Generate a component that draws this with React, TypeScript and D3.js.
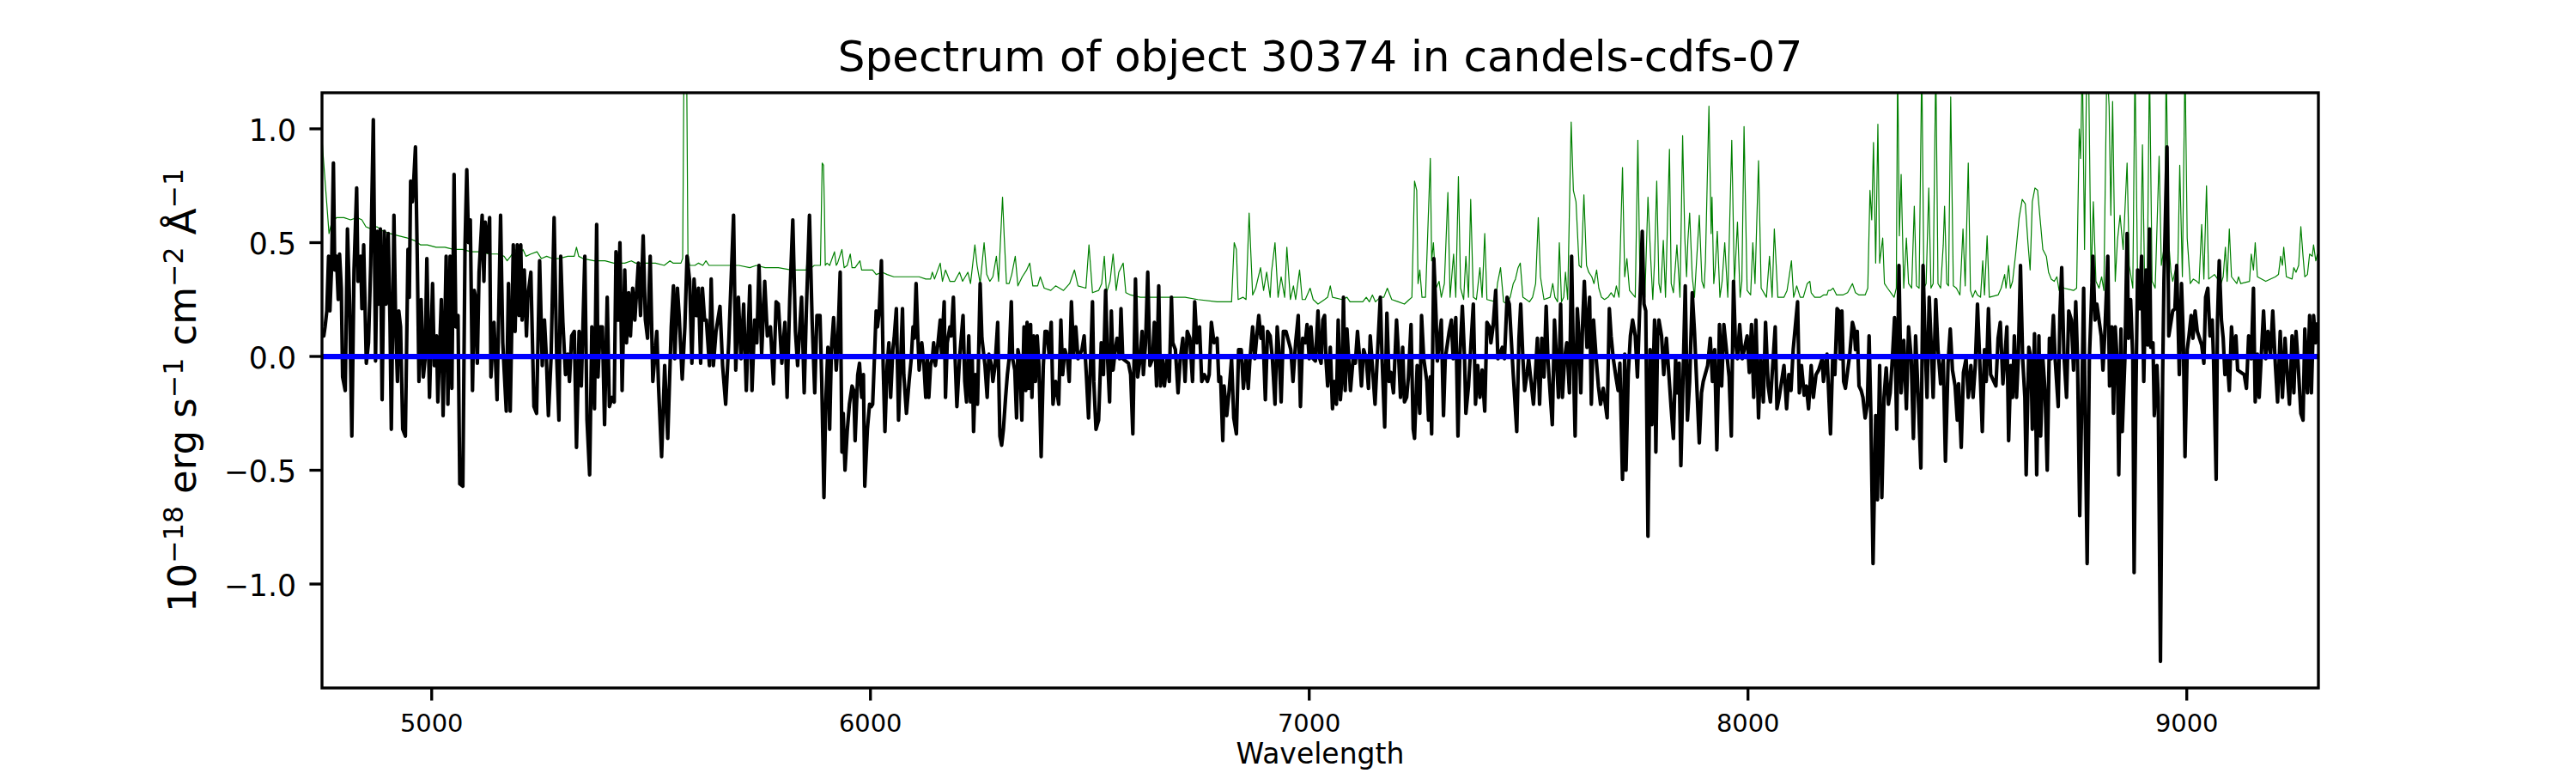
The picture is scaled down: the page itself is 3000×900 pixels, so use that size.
import React from 'react';
import * as d3 from 'd3';

type P = [number, number];

const spectrumA: P[] = [
  [4750,0.10],[4754,0.09],[4757,0.13],[4761,0.20],[4765,0.44],[4768,0.20],[4772,0.40],[4776,0.85],[4779,0.38],[4783,0.44],
  [4787,0.25],[4790,0.45],[4794,0.30],[4797,-0.09],[4803,-0.15],[4808,0.56],[4813,0.23],[4818,-0.35],[4823,0.38],[4829,0.74],
  [4832,0.33],[4838,0.44],[4841,0.21],[4845,0.49],[4851,-0.03],[4856,0.06],[4861,0.40],[4867,1.04],[4872,-0.02],[4876,0.55],
  [4879,0.23],[4883,0.56],[4887,-0.19],[4892,0.55],[4896,0.23],[4901,0.54],[4905,0.15],[4908,-0.32],[4914,0.62],[4918,0.13],
  [4922,-0.11],[4925,0.20],[4929,0.13],[4934,-0.32],[4940,-0.35],[4946,0.47],[4949,0.26],[4952,0.77],[4956,0.68],[4959,0.77],
  [4963,0.92],[4967,0.45],[4971,-0.11],[4976,0.25],[4981,-0.09],[4985,-0.01],[4989,0.43],[4995,-0.18],[5002,0.32],[5006,-0.04],
  [5011,0.09],[5014,-0.20],[5022,0.25],[5026,-0.26],[5033,0.44],[5037,-0.21],[5042,0.44],[5046,-0.14],[5051,0.80],[5055,0.13],
  [5060,0.18],[5064,-0.56],[5071,-0.57],[5076,0.49],[5080,0.82],[5084,0.50],[5088,0.60],[5093,-0.15],[5097,0.29],[5100,0.26],
  [5104,-0.03],[5108,0.37],[5115,0.62],[5119,0.33],[5122,0.59],[5127,0.46],[5132,0.61],[5135,-0.09],[5142,0.15],[5149,-0.19],
  [5157,0.62],[5162,0.06],[5170,-0.24],[5175,0.32],[5179,-0.24],[5186,0.49],[5190,0.11],[5195,0.49],[5199,0.18],[5203,0.49],
  [5206,0.16],[5211,0.38],[5216,0.09],[5219,0.26],[5226,0.37],[5233,-0.22],[5239,-0.25],[5246,0.42],[5252,-0.04],[5257,0.16],
  [5261,0.01],[5266,-0.26],[5272,-0.01],[5279,0.61],[5285,-0.01],[5290,-0.28],[5294,0.44],[5299,0.15],[5305,-0.08],[5310,0.01],
  [5314,-0.11],[5319,0.09],[5325,0.11],[5330,-0.40],[5336,0.11],[5341,-0.13],[5349,0.44],[5354,-0.28],[5360,-0.52],[5365,0.13],
  [5371,-0.23],[5376,0.58],[5379,-0.09],[5384,0.13],[5389,0.13],[5394,-0.30],[5400,0.26],[5405,-0.22],[5411,-0.18],[5416,-0.20],
  [5420,0.46],[5425,0.16],[5429,0.50],[5434,-0.15],[5440,0.38],[5444,0.06],[5449,0.28],[5453,0.09],[5458,0.30],[5463,0.16],
  [5471,0.41],[5476,0.18],[5482,0.53],[5487,0.16],[5492,0.08],[5498,0.44],[5504,-0.11],[5513,0.11],[5517,-0.13],[5524,-0.44],
  [5531,-0.04],[5538,-0.36],[5546,0.13],[5551,0.31],[5554,-0.01],[5560,0.30],[5564,0.18],[5571,-0.10],[5577,0.13],[5582,0.44],
  [5588,0.33],[5593,-0.03],[5598,0.34],[5603,0.18],[5608,0.30],[5613,-0.03],[5617,0.30],[5622,0.16],[5626,0.16],[5633,-0.04],
  [5637,0.34],[5642,-0.04],[5648,0.11],[5657,0.22],[5663,-0.04],[5670,-0.21],[5677,0.06],[5688,0.62],[5693,-0.06],[5699,0.26],
  [5705,-0.01],[5711,0.23],[5717,-0.15],[5725,0.31],[5730,-0.15],[5736,0.16],[5741,0.06],[5746,0.40],[5752,0.01],[5759,0.33],
  [5765,0.09],[5772,0.13],[5779,-0.12],[5785,0.24],[5790,0.23],[5798,-0.03],[5805,0.15],[5810,-0.18],[5816,0.25],[5823,0.60],
  [5829,0.11],[5834,-0.04],[5843,0.26],[5849,-0.16],[5854,0.21],[5861,0.62],[5867,0.16],[5873,-0.16],[5878,0.18],[5885,0.18],
];

const spectrumB: P[] = [
  [5889,-0.11],[5894,-0.62],[5898,-0.21],[5903,0.04],[5907,-0.32],[5911,0.03],[5916,0.17],[5922,-0.06],[5925,0.03],[5931,0.37],
  [5935,-0.42],[5938,-0.25],[5942,-0.50],[5947,-0.33],[5952,-0.21],[5958,-0.13],[5962,-0.15],[5965,-0.37],[5971,-0.08],[5975,-0.03],
  [5980,-0.18],[5984,-0.08],[5987,-0.57],[5993,-0.32],[5998,-0.21],[6002,-0.22],[6005,-0.21],[6009,-0.01],[6013,0.20],[6016,0.13],
  [6020,0.20],[6025,0.42],[6029,-0.04],[6033,-0.33],[6038,-0.04],[6042,0.06],[6046,-0.18],[6051,0.03],[6054,0.08],[6059,0.21],
  [6064,-0.28],[6068,-0.06],[6073,0.21],[6076,-0.08],[6082,-0.25],[6088,-0.11],[6093,-0.01],[6097,0.13],[6100,0.08],[6104,0.32],
  [6108,0.09],[6111,-0.06],[6117,0.06],[6122,-0.04],[6126,-0.18],[6130,-0.01],[6133,-0.18],[6137,-0.04],[6141,-0.01],[6144,0.06],
  [6148,-0.04],[6154,0.06],[6159,0.16],[6162,0.01],[6168,0.24],[6171,-0.18],[6175,0.06],[6181,0.13],[6184,0.09],[6189,0.26],
  [6193,-0.01],[6197,-0.22],[6203,-0.01],[6211,0.18],[6215,-0.11],[6219,-0.20],[6224,0.09],[6228,-0.20],[6232,-0.01],[6235,-0.33],
  [6239,-0.08],[6244,-0.21],[6250,0.32],[6254,0.08],[6261,-0.04],[6266,-0.18],[6270,0.01],[6276,-0.04],[6279,-0.11],[6284,-0.04],
  [6290,0.15],[6295,-0.35],[6299,-0.39],[6303,-0.32],[6308,-0.18],[6312,-0.08],[6316,-0.01],[6321,0.24],[6324,-0.01],[6329,-0.06],
  [6333,-0.27],[6336,0.03],[6340,-0.01],[6345,-0.28],[6350,0.13],[6354,-0.15],[6357,0.15],[6361,-0.14],[6365,0.14],[6368,-0.18],
  [6372,0.09],[6376,-0.11],[6380,0.09],[6384,-0.04],[6389,-0.44],[6394,-0.04],[6398,0.11],[6402,0.11],[6407,0.01],[6412,0.15],
  [6416,-0.21],[6422,-0.11],[6429,-0.21],[6434,0.16],[6438,-0.08],[6443,0.03],[6449,-0.01],[6453,-0.11],[6458,0.24],[6463,0.01],
  [6468,0.13],[6473,-0.01],[6482,0.03],[6487,0.09],[6492,-0.08],[6497,-0.27],[6502,-0.01],[6506,0.24],[6509,-0.11],[6514,-0.32],
  [6520,-0.28],[6526,0.06],[6531,-0.08],[6536,0.29],[6540,0.01],[6545,-0.20],[6549,0.20],[6553,-0.06],[6558,0.03],[6562,0.08],
  [6568,-0.01],[6571,0.21],[6575,-0.01],[6588,-0.03],[6593,-0.08],[6598,-0.34],[6604,0.34],[6609,-0.09],[6614,-0.02],[6619,0.11],
  [6622,-0.08],[6627,0.06],[6632,0.37],[6637,-0.04],[6643,-0.01],[6647,0.15],[6652,-0.13],[6657,0.31],[6661,-0.13],[6666,-0.01],
  [6670,-0.13],[6676,-0.01],[6681,-0.11],[6686,0.26],[6689,0.06],[6695,0.03],[6701,-0.16],[6706,-0.01],[6712,0.08],[6717,-0.11],
  [6722,0.11],[6728,0.08],[6734,-0.11],[6739,0.24],[6744,0.06],[6750,0.13],[6755,-0.11],[6761,-0.08],[6768,-0.11],[6772,-0.08],
  [6777,0.15],[6783,0.06],[6790,0.08],[6794,-0.11],[6798,-0.09],[6803,-0.37],[6806,-0.13],[6812,-0.26],[6817,-0.16],[6823,-0.01],
  [6828,-0.27],[6834,-0.34],[6839,0.03],[6845,0.03],[6850,-0.14],[6856,-0.01],[6861,-0.14],[6865,-0.01],[6871,0.13],[6876,-0.01],
  [6880,0.08],[6885,0.18],[6890,0.08],[6894,0.13],[6900,-0.19],[6905,0.11],[6911,0.09],[6916,-0.01],[6922,-0.21],[6927,0.13],
  [6931,0.03],[6936,-0.20],[6941,0.11],[6947,0.11],[6958,0.03],[6963,-0.11],[6969,0.06],[6975,0.18],[6980,-0.22],[6985,0.08],
  [6991,0.06],[6995,0.14],[7000,-0.01],[7004,0.13],[7009,-0.01],[7014,-0.02],[7020,0.20],
];

const spectrumC: P[] = [
  [7024,-0.01],[7027,-0.03],[7031,0.16],[7035,0.18],[7038,-0.01],[7042,-0.13],[7048,0.04],[7053,-0.23],[7057,-0.11],[7062,-0.21],
  [7066,0.16],[7071,-0.19],[7075,-0.08],[7078,0.26],[7082,-0.15],[7086,0.12],[7094,-0.15],[7100,-0.01],[7105,-0.03],[7110,0.11],
  [7115,-0.01],[7119,-0.13],[7124,0.03],[7130,-0.01],[7135,-0.14],[7139,0.09],[7150,-0.21],[7155,-0.01],[7162,0.26],[7166,-0.01],
  [7172,-0.31],[7177,0.19],[7182,-0.11],[7186,-0.07],[7192,-0.16],[7199,0.16],[7204,-0.01],[7208,-0.18],[7213,0.04],[7217,-0.20],
  [7222,-0.18],[7226,-0.09],[7232,0.14],[7237,-0.32],[7240,-0.36],[7246,-0.04],[7252,-0.25],[7256,0.18],[7261,-0.01],[7268,-0.11],
  [7272,-0.28],[7276,-0.09],[7279,-0.34],[7284,0.43],[7289,0.18],[7292,-0.02],[7301,0.16],[7306,-0.26],[7310,-0.01],[7319,0.11],
  [7324,0.16],[7328,-0.01],[7334,0.17],[7339,-0.35],[7343,-0.01],[7349,0.22],[7354,-0.01],[7357,-0.25],[7363,-0.13],[7374,0.23],
  [7379,-0.21],[7384,-0.04],[7389,-0.18],[7394,-0.06],[7400,-0.24],[7405,0.15],[7411,0.13],[7414,0.06],[7419,0.13],[7425,0.29],
  [7430,-0.01],[7440,0.04],[7445,-0.01],[7451,0.26],[7456,0.23],[7460,0.09],[7465,-0.08],[7473,-0.33],[7478,0.08],[7482,0.23],
  [7487,-0.01],[7491,-0.15],[7496,-0.08],[7500,-0.01],[7511,-0.21],[7515,-0.09],[7520,0.08],[7525,-0.21],[7530,0.08],[7535,-0.09],
  [7540,0.22],[7544,-0.01],[7549,-0.16],[7554,-0.30],[7559,0.16],[7568,-0.18],[7573,0.23],[7577,-0.18],[7582,-0.01],[7587,0.06],
  [7593,-0.16],[7598,0.44],[7602,-0.01],[7606,-0.35],[7611,0.21],[7615,0.08],[7619,-0.16],[7623,0.14],[7627,0.33],[7633,0.04],
  [7639,0.26],[7643,-0.21],[7648,0.16],[7654,-0.01],[7659,-0.13],[7664,-0.21],[7670,-0.14],[7679,-0.27],[7684,0.21],[7688,0.09],
  [7693,-0.01],[7699,-0.09],[7704,-0.15],[7708,-0.03],[7714,-0.54],[7719,0.01],[7722,-0.50],[7727,-0.08],[7732,0.09],[7737,0.16],
  [7743,0.09],[7748,-0.09],[7759,0.55],[7763,0.23],[7767,0.20],[7772,-0.79],[7777,0.03],[7781,-0.30],[7787,0.16],[7790,-0.42],
  [7794,0.09],[7797,0.16],[7803,0.09],[7808,-0.08],[7814,0.08],[7825,-0.23],[7830,-0.36],[7835,-0.01],[7839,-0.16],[7843,-0.03],
  [7847,-0.48],[7852,-0.09],[7857,0.31],[7862,-0.28],[7867,-0.11],[7873,0.28],[7878,0.11],[7889,-0.38],[7894,-0.16],[7898,-0.11],
  [7908,-0.04],[7914,0.08],[7919,-0.11],[7924,0.03],[7929,-0.41],[7935,0.14],[7940,-0.13],[7945,0.14],[7957,-0.09],[7962,-0.35],
  [7967,0.33],[7971,0.08],[7976,-0.01],[7981,0.14],[7987,-0.01],[7998,0.09],[8003,-0.07],[8008,0.14],[8013,-0.18],[8018,0.16],
  [8024,-0.27],[8029,-0.01],[8035,-0.20],[8040,0.15],[8046,-0.13],[8051,-0.20],[8062,0.13],[8066,-0.23],[8071,-0.18],[8082,-0.04],
  [8088,-0.23],[8093,-0.08],[8098,-0.15],[8103,0.03],[8113,0.24],[8117,-0.16],[8122,-0.04],[8128,-0.17],[8133,-0.13],[8138,-0.23],
  [8144,-0.04],[8149,-0.18],[8155,-0.08],[8161,-0.06],
];

const spectrumD: P[] = [
  [8169,-0.01],[8172,-0.11],[8176,-0.04],[8180,0.01],[8188,-0.34],[8193,-0.01],[8198,-0.08],[8203,0.21],[8207,0.20],[8210,-0.01],
  [8214,0.20],[8218,-0.11],[8222,-0.14],[8232,0.01],[8238,0.15],[8242,0.12],[8245,0.03],[8249,0.11],[8253,-0.13],[8258,-0.15],
  [8262,-0.18],[8267,-0.27],[8272,-0.21],[8276,0.09],[8280,-0.25],[8285,-0.91],[8291,-0.26],[8295,-0.63],[8300,-0.04],[8305,-0.62],
  [8310,-0.18],[8315,-0.05],[8320,-0.21],[8324,-0.16],[8329,-0.01],[8334,0.17],[8339,-0.32],[8344,0.40],[8349,-0.16],[8355,0.07],
  [8361,-0.23],[8366,0.13],[8372,-0.01],[8377,-0.36],[8382,0.09],[8388,-0.18],[8394,-0.49],[8399,0.40],[8404,0.04],[8408,-0.18],
  [8413,0.26],[8418,0.03],[8422,-0.18],[8428,0.25],[8433,0.03],[8439,-0.12],[8445,-0.01],[8450,-0.46],[8456,-0.03],[8461,0.12],
  [8466,-0.06],[8472,-0.13],[8477,-0.28],[8480,-0.12],[8486,-0.40],[8491,-0.07],[8497,-0.01],[8502,-0.18],[8508,-0.04],[8513,-0.18],
  [8518,-0.04],[8523,0.23],[8528,-0.01],[8534,-0.33],[8539,0.03],[8543,-0.11],[8548,0.21],[8553,-0.08],[8565,-0.13],[8570,0.08],
  [8575,0.15],[8581,-0.12],[8586,0.01],[8590,0.13],[8594,-0.37],[8599,-0.04],[8603,-0.18],[8607,0.09],[8612,-0.18],[8616,-0.01],
  [8621,0.40],[8626,-0.01],[8631,-0.18],[8634,-0.52],[8640,0.04],[8645,-0.01],[8648,-0.32],[8653,0.10],[8658,-0.52],[8663,0.09],
  [8667,-0.35],[8672,-0.01],[8677,-0.15],[8682,-0.50],[8687,0.08],[8691,-0.01],[8696,0.18],[8700,-0.01],[8707,-0.22],[8711,0.19],
  [8715,0.39],[8720,0.01],[8726,-0.18],[8731,0.20],[8737,0.16],[8742,-0.06],[8747,0.24],[8751,-0.01],[8756,-0.70],[8760,-0.28],
  [8765,0.30],[8769,-0.35],[8773,-0.91],[8778,-0.01],[8782,0.20],[8786,0.44],[8791,0.16],[8795,0.23],[8800,0.16],[8805,0.09],
  [8809,-0.06],[8813,0.09],[8820,0.44],[8824,-0.13],[8829,0.13],[8833,-0.25],[8837,0.13],[8842,-0.04],[8845,-0.52],[8850,0.12],
  [8853,-0.33],[8859,-0.01],[8864,0.54],[8867,0.08],[8872,0.25],[8877,-0.01],[8880,-0.95],[8884,-0.18],[8888,0.38],[8893,0.21],
  [8897,0.44],[8902,-0.11],[8907,0.38],[8911,0.05],[8915,0.56],[8918,0.04],[8923,0.06],[8926,-0.26],[8932,-0.04],[8935,-0.18],
  [8940,-1.34],[8945,-0.09],[8948,0.33],[8955,0.92],[8959,0.09],[8968,0.20],[8973,0.21],[8977,0.40],[8983,-0.08],[8988,0.32],
  [8992,0.09],[8996,-0.44],[9001,0.03],[9005,0.09],[9010,0.18],[9014,0.08],[9019,0.20],[9024,0.11],[9034,0.05],[9039,-0.03],
  [9043,0.26],[9048,0.30],[9053,0.09],[9058,0.16],[9061,-0.01],[9067,-0.54],[9070,0.16],[9074,0.42],[9079,0.16],[9083,0.08],
  [9087,-0.08],[9092,-0.01],[9097,-0.15],[9102,0.13],[9107,-0.01],[9112,0.09],[9116,-0.06],[9131,-0.08],[9136,-0.14],[9141,0.09],
  [9147,-0.01],[9152,0.30],[9156,-0.20],[9161,0.01],[9165,-0.18],[9175,0.20],[9180,-0.01],[9185,0.11],[9191,0.01],[9196,0.20],
  [9202,-0.04],[9207,-0.20],[9213,0.11],[9218,-0.18],[9224,0.08],[9229,-0.08],[9234,-0.21],[9240,0.09],[9244,-0.16],[9249,0.11],
  [9254,-0.04],[9260,-0.25],[9265,-0.28],[9269,0.12],[9275,-0.16],[9280,0.18],[9284,-0.16],[9289,0.18],[9294,0.06],[9298,0.15],
];

// Noise / sky spectrum (green), values above the axis top are clipped
const noiseA: P[] = [
  [4750,0.96],[4752,0.90],[4766,0.54],[4771,0.58],[4783,0.61],[4800,0.61],[4815,0.60],[4830,0.61],[4841,0.60],[4850,0.57],
  [4862,0.56],[4875,0.57],[4890,0.55],[4905,0.54],[4925,0.53],[4945,0.52],[4960,0.51],[4975,0.49],[4990,0.49],[5010,0.48],
  [5030,0.48],[5050,0.47],[5070,0.47],[5090,0.46],[5110,0.46],[5130,0.45],[5150,0.45],[5165,0.44],[5172,0.42],[5180,0.44],
  [5190,0.47],[5198,0.44],[5208,0.47],[5215,0.44],[5226,0.45],[5240,0.46],[5250,0.43],[5262,0.44],[5275,0.43],[5290,0.43],
  [5310,0.44],[5325,0.44],[5330,0.48],[5335,0.44],[5345,0.43],[5370,0.42],[5395,0.42],[5415,0.41],[5440,0.41],[5455,0.42],
  [5465,0.41],[5485,0.41],[5510,0.41],[5530,0.40],[5543,0.42],[5550,0.41],[5568,0.41],[5572,0.43],[5575,1.30],[5581,1.30],
  [5584,0.45],[5588,0.40],[5600,0.40],[5608,0.41],[5618,0.40],[5625,0.42],[5632,0.40],[5648,0.40],[5670,0.40],[5700,0.40],
  [5725,0.39],[5740,0.40],[5760,0.39],[5790,0.39],[5820,0.38],[5848,0.38],[5854,0.38],[5858,0.49],[5862,0.42],[5866,0.39],
  [5872,0.40],[5886,0.40],[5890,0.85],[5893,0.84],[5895,0.66],[5897,0.40],
];

const noiseB: P[] = [
  [5901,0.41],[5907,0.40],[5918,0.46],[5922,0.40],[5925,0.41],[5935,0.47],[5940,0.39],[5947,0.40],[5954,0.45],[5958,0.39],
  [5965,0.39],[5976,0.42],[5980,0.38],[5995,0.38],[6005,0.38],[6013,0.36],[6027,0.37],[6038,0.36],[6053,0.35],[6075,0.35],
  [6089,0.35],[6111,0.35],[6126,0.34],[6137,0.34],[6141,0.37],[6146,0.34],[6159,0.41],[6164,0.33],[6171,0.38],[6181,0.33],
  [6192,0.33],[6203,0.37],[6210,0.33],[6222,0.37],[6228,0.32],[6238,0.49],[6243,0.40],[6250,0.32],[6259,0.50],[6265,0.36],
  [6272,0.33],[6279,0.35],[6287,0.44],[6292,0.33],[6301,0.70],[6305,0.52],[6310,0.32],[6316,0.32],[6322,0.36],[6330,0.44],
  [6336,0.31],[6346,0.35],[6356,0.38],[6363,0.41],[6370,0.31],[6381,0.31],[6387,0.35],[6396,0.30],[6411,0.29],[6422,0.31],
  [6440,0.29],[6454,0.32],[6465,0.38],[6473,0.31],[6491,0.30],[6498,0.49],[6506,0.28],[6520,0.29],[6527,0.32],[6533,0.44],
  [6538,0.28],[6546,0.33],[6553,0.45],[6560,0.29],[6566,0.37],[6576,0.41],[6582,0.28],[6593,0.27],[6615,0.26],[6637,0.26],
  [6673,0.26],[6717,0.26],[6746,0.25],[6790,0.24],[6823,0.24],[6829,0.50],[6834,0.47],[6838,0.25],[6849,0.26],[6856,0.25],
  [6863,0.63],[6871,0.27],[6878,0.30],[6889,0.39],[6896,0.29],[6903,0.37],[6911,0.26],[6914,0.37],[6922,0.50],[6929,0.26],
  [6936,0.35],[6944,0.26],[6949,0.48],[6957,0.25],[6964,0.31],[6969,0.25],[6978,0.38],[6984,0.25],[6991,0.25],[7002,0.30],
  [7009,0.25],[7020,0.23],
];

const noiseC: P[] = [
  [7035,0.25],[7042,0.26],[7048,0.31],[7053,0.26],[7075,0.25],[7086,0.26],[7093,0.24],[7122,0.24],[7130,0.26],[7137,0.24],
  [7144,0.27],[7151,0.24],[7162,0.26],[7170,0.26],[7178,0.30],[7188,0.25],[7203,0.24],[7217,0.23],[7228,0.25],[7234,0.26],
  [7240,0.77],[7245,0.73],[7248,0.32],[7252,0.38],[7257,0.26],[7265,0.26],[7276,0.87],[7279,0.42],[7283,0.50],[7289,0.30],
  [7296,0.33],[7301,0.26],[7308,0.32],[7316,0.72],[7321,0.26],[7329,0.45],[7334,0.26],[7340,0.79],[7345,0.30],[7352,0.25],
  [7357,0.44],[7363,0.26],[7368,0.69],[7374,0.26],[7381,0.25],[7389,0.39],[7394,0.26],[7400,0.54],[7405,0.25],[7425,0.24],
  [7429,0.32],[7436,0.39],[7443,0.24],[7451,0.23],[7458,0.26],[7465,0.32],[7470,0.34],[7476,0.39],[7481,0.41],[7487,0.26],
  [7502,0.24],[7509,0.26],[7516,0.32],[7522,0.61],[7527,0.35],[7535,0.25],[7549,0.26],[7555,0.32],[7560,0.26],[7566,0.24],
  [7570,0.50],[7575,0.24],[7580,0.26],[7584,0.37],[7589,0.25],[7597,1.03],[7602,0.73],[7608,0.68],[7615,0.40],[7620,0.39],
  [7626,0.71],[7632,0.40],[7637,0.37],[7644,0.35],[7649,0.32],[7655,0.38],[7660,0.30],[7666,0.26],[7673,0.25],[7681,0.26],
  [7688,0.28],[7695,0.26],[7700,0.31],[7706,0.26],[7714,0.83],[7719,0.35],[7724,0.43],[7730,0.29],[7743,0.26],[7749,0.95],
  [7754,0.30],[7759,0.55],[7765,0.26],[7772,0.70],[7778,0.44],[7783,0.25],[7787,0.42],[7792,0.77],[7797,0.32],[7801,0.28],
  [7807,0.51],[7812,0.26],[7821,0.91],[7825,0.32],[7830,0.28],[7838,0.49],[7845,0.26],[7851,0.97],[7856,0.52],[7860,0.35],
  [7863,0.51],[7867,0.63],[7873,0.35],[7878,0.26],[7881,0.36],[7889,0.62],[7895,0.33],[7900,0.30],[7903,0.42],[7911,1.10],
  [7916,0.54],[7918,0.70],[7922,0.32],[7925,0.38],[7930,0.55],[7936,0.26],[7941,0.33],[7947,0.50],[7954,0.26],[7963,0.95],
  [7969,0.32],[7976,0.59],[7982,0.26],[7986,0.33],[7991,1.01],[7998,0.29],[8006,0.27],[8011,0.50],[8016,0.32],[8024,0.86],
  [8030,0.30],[8042,0.26],[8049,0.44],[8055,0.26],[8060,0.56],[8068,0.26],[8082,0.26],[8089,0.29],[8093,0.34],[8099,0.42],
  [8104,0.26],[8111,0.31],[8119,0.26],[8126,0.26],[8135,0.32],[8141,0.33],[8144,0.28],[8152,0.26],[8165,0.26],
];

const noiseD: P[] = [
  [8172,0.27],[8180,0.27],[8183,0.29],[8188,0.29],[8194,0.30],[8202,0.27],[8216,0.27],[8227,0.28],[8238,0.32],[8245,0.28],
  [8253,0.27],[8267,0.27],[8273,0.30],[8278,0.73],[8282,0.60],[8286,0.94],[8291,0.41],[8296,1.02],[8300,0.41],[8307,0.52],
  [8311,0.32],[8318,0.30],[8333,0.26],[8338,0.30],[8341,1.30],[8345,0.53],[8349,0.80],[8355,0.30],[8361,0.52],[8366,0.32],
  [8373,0.30],[8379,0.66],[8384,0.31],[8390,0.30],[8396,1.30],[8401,0.30],[8406,0.32],[8412,0.74],[8417,0.30],[8422,0.32],
  [8428,1.30],[8433,0.32],[8439,0.30],[8445,0.49],[8448,0.66],[8453,0.32],[8457,0.31],[8462,1.14],[8468,0.31],[8475,0.30],
  [8483,0.27],[8490,0.56],[8495,0.31],[8502,0.85],[8507,0.29],[8512,0.26],[8518,0.29],[8523,0.27],[8530,0.26],[8535,0.42],
  [8539,0.27],[8545,0.53],[8550,0.26],[8570,0.27],[8577,0.30],[8585,0.36],[8588,0.30],[8594,0.40],[8598,0.30],[8603,0.33],
  [8610,0.45],[8618,0.61],[8625,0.69],[8632,0.67],[8638,0.50],[8643,0.38],[8648,0.68],[8654,0.74],[8660,0.73],[8665,0.62],
  [8672,0.47],[8680,0.44],[8685,0.37],[8691,0.34],[8698,0.33],[8704,0.35],[8709,0.29],[8713,0.32],[8720,0.30],[8742,0.29],
  [8749,0.30],[8755,1.00],[8758,0.87],[8762,1.30],[8767,0.47],[8772,1.30],[8777,1.15],[8782,0.33],[8787,0.68],[8793,0.33],
  [8800,0.30],[8806,0.35],[8811,0.29],[8818,1.30],[8823,1.10],[8827,0.62],[8831,1.12],[8837,0.33],[8842,0.51],[8848,0.62],
  [8855,0.47],[8864,0.85],[8869,0.40],[8877,0.30],[8882,1.30],[8888,0.32],[8895,0.40],[8899,0.93],[8904,0.32],[8910,0.32],
  [8915,1.30],[8921,0.33],[8928,0.30],[8937,0.88],[8942,0.40],[8950,0.50],[8953,1.30],[8959,0.50],[8964,0.37],[8968,0.33],
  [8974,0.38],[8979,0.33],[8984,0.84],[8990,0.35],[8996,1.30],[9001,0.52],[9008,0.32],[9015,0.34],[9023,0.33],[9028,0.32],
  [9034,0.58],[9039,0.34],[9045,0.75],[9050,0.34],[9063,0.36],[9078,0.32],[9083,0.35],[9088,0.48],[9092,0.33],[9097,0.56],
  [9102,0.35],[9114,0.32],[9118,0.35],[9123,0.32],[9143,0.33],[9147,0.45],[9152,0.38],[9156,0.50],[9161,0.35],[9180,0.33],
  [9202,0.35],[9209,0.36],[9214,0.44],[9218,0.40],[9221,0.48],[9227,0.35],[9240,0.34],[9244,0.39],[9249,0.37],[9255,0.40],
  [9260,0.57],[9265,0.44],[9269,0.35],[9275,0.36],[9280,0.45],[9286,0.44],[9289,0.49],[9294,0.42],[9298,0.45],
];

const zeroLevel: P[] = [[4750, 0], [9300, 0]];

const xDomain = [4750, 9300];
const yDomain = [-1.4566, 1.1585];
const xTicks = [5000, 6000, 7000, 8000, 9000];
const yTicks = [-1.0, -0.5, 0.0, 0.5, 1.0];
const yTickLabels = ['\u22121.0', '\u22120.5', '0.0', '0.5', '1.0'];

const titleText = 'Spectrum of object 30374 in candels-cdfs-07';
const xLabelText = 'Wavelength';

export default function App() {
  const W = 3000, H = 900;
  const left = 375, right = 2700, top = 108, bottom = 801;
  const x = d3.scaleLinear().domain(xDomain).range([left, right]);
  const y = d3.scaleLinear().domain(yDomain).range([bottom, top]);
  const line = d3.line<P>().x(d => x(d[0])).y(d => y(d[1]));

  const spectrum = [...spectrumA, ...spectrumB, ...spectrumC, ...spectrumD];
  const noise = [...noiseA, ...noiseB, ...noiseC, ...noiseD];

  const font = '"DejaVu Sans", sans-serif';
  const tickLen = 14.6;
  const spineW = 3.33;
  const supSize = 31.5;
  const mainSize = 45;
  const raise = 15;

  return (
    <svg width={W} height={H} viewBox={`0 0 ${W} ${H}`}
      style={{ position: 'absolute', left: 0, top: 0, display: 'block', background: '#fff' }}
      fontFamily={font}>
      <rect x={0} y={0} width={W} height={H} fill="#fff" />
      <defs>
        <clipPath id="plotClip">
          <rect x={left} y={top} width={right - left} height={bottom - top} />
        </clipPath>
      </defs>
      <g clipPath="url(#plotClip)">
        <path d={line(noise) || ''} fill="none" stroke="#008000" strokeWidth={1.2} strokeLinejoin="round" />
        <path d={line(spectrum) || ''} fill="none" stroke="#000" strokeWidth={4.17} strokeLinejoin="round" />
        <path d={line(zeroLevel) || ''} fill="none" stroke="#0000ff" strokeWidth={6.25} />
      </g>
      <rect x={left} y={top} width={right - left} height={bottom - top} fill="none" stroke="#000" strokeWidth={spineW} />
      {xTicks.map(t => (
        <g key={'x' + t}>
          <line x1={x(t)} x2={x(t)} y1={bottom} y2={bottom + tickLen} stroke="#000" strokeWidth={spineW} />
          <text x={x(t)} y={852} fontSize={28.9} textAnchor="middle" fill="#000">{String(t)}</text>
        </g>
      ))}
      {yTicks.map((t, i) => (
        <g key={'y' + t}>
          <line x1={left - tickLen} x2={left} y1={y(t)} y2={y(t)} stroke="#000" strokeWidth={spineW} />
          <text x={345} y={y(t) + 13.5} fontSize={34.7} textAnchor="end" fill="#000">{yTickLabels[i]}</text>
        </g>
      ))}
      <text x={(left + right) / 2} y={83} fontSize={50} textAnchor="middle" fill="#000">{titleText}</text>
      <text x={(left + right) / 2} y={889} fontSize={33} textAnchor="middle" fill="#000">{xLabelText}</text>
      <text transform={`translate(228,${(top + bottom) / 2}) rotate(-90)`} textAnchor="middle" fontSize={mainSize} fill="#000">
        <tspan>10</tspan>
        <tspan fontSize={supSize} dy={-raise}>{'\u221218'}</tspan>
        <tspan dy={raise}>{' erg s'}</tspan>
        <tspan fontSize={supSize} dy={-raise}>{'\u22121'}</tspan>
        <tspan dy={raise}>{' cm'}</tspan>
        <tspan fontSize={supSize} dy={-raise}>{'\u22122'}</tspan>
        <tspan dy={raise}>{' \u00C5'}</tspan>
        <tspan fontSize={supSize} dy={-raise}>{'\u22121'}</tspan>
      </text>
    </svg>
  );
}
